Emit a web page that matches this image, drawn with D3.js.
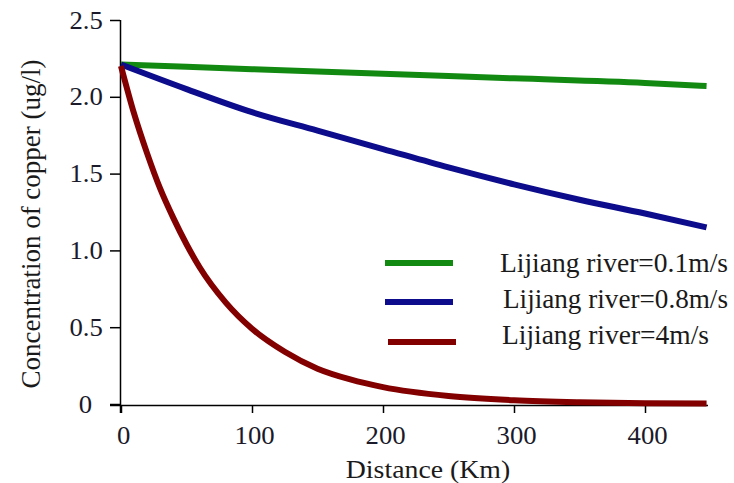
<!DOCTYPE html>
<html>
<head>
<meta charset="utf-8">
<script src="https://cdn.jsdelivr.net/npm/d3@7"></script>
<style>
  body { margin: 0; background: #fff; }
</style>
</head>
<body>
<svg id="chart" width="734" height="483"></svg>
<script>
// values
const distSlow = [0, 100, 200, 300, 400, 447];
const slow     = [2.21, 2.18, 2.15, 2.12, 2.09, 2.07];

const distMedium = [0, 50, 100, 150, 200, 250, 300, 350, 400, 447];
const medium     = [2.21, 2.05, 1.90, 1.78, 1.66, 1.54, 1.43, 1.33, 1.24, 1.15];

const distFast = [0, 10, 20, 30, 40, 50, 60, 80, 100, 125, 150, 175, 200, 250, 300, 350, 400, 447];
const fast     = [2.20, 1.89, 1.63, 1.40, 1.21, 1.04, 0.89, 0.66, 0.49, 0.34, 0.23, 0.16, 0.11, 0.052, 0.024, 0.011, 0.005, 0.003];

const seriesNames = ["Lijiang river=0.1m/s", "Lijiang river=0.8m/s", "Lijiang river=4m/s"];
const seriesColors = ["#128a12", "#0c0c8c", "#820000"];
const xTicks = [0, 100, 200, 300, 400];
const yTicks = [0, 0.5, 1.0, 1.5, 2.0, 2.5];

const serif = "Liberation Serif";
const stretch = "scale(1.07,1)";   // the source text is a bit wide

const svg = d3.select("#chart");

const x = d3.scaleLinear().domain([0, 400]).range([121, 645]);
const y = d3.scaleLinear().domain([0, 2.5]).range([404, 20]);

// axes
const xAxis = svg.append("g")
    .attr("transform", "translate(0,405)")
    .call(d3.axisBottom(x).tickValues(xTicks).tickSize(8).tickPadding(13).tickFormat(d3.format("d")));
xAxis.select(".domain").attr("d", "M110,0.5H708");
xAxis.selectAll(".tick text").attr("dx", 2);

const yAxis = svg.append("g")
    .attr("transform", "translate(120,0)")
    .call(d3.axisLeft(y).tickValues(yTicks).tickSize(10).tickPadding(6)
        .tickFormat(d => d === 0 ? "0" : d3.format(".1f")(d)));
yAxis.select(".domain").attr("d", "M0.5,20V413");
yAxis.selectAll(".tick").filter(d => d === 0).select("text").attr("dx", -10);

svg.selectAll(".domain").attr("stroke", "#000").attr("stroke-width", 1.5);
svg.selectAll(".tick line").attr("stroke", "#000").attr("stroke-width", 1.5);
svg.selectAll(".tick text")
    .attr("font-family", serif)
    .attr("font-size", 25)
    .attr("fill", "#1a1a2a")
    .attr("transform", stretch);

// axis titles
svg.append("text")
    .attr("transform", "translate(428,478) " + stretch)
    .attr("text-anchor", "middle")
    .attr("font-family", serif)
    .attr("font-size", 26)
    .attr("fill", "#1a1a1a")
    .text("Distance (Km)");

svg.append("text")
    .attr("transform", "translate(40,224) rotate(-90)")
    .attr("text-anchor", "middle")
    .attr("font-family", serif)
    .attr("font-size", 27)
    .attr("fill", "#1a1a1a")
    .text("Concentration of copper (ug/l)");

// lines
const series = [
    { dist: distSlow, vals: slow },
    { dist: distMedium, vals: medium },
    { dist: distFast, vals: fast }
];

series.forEach((s, i) => {
    const line = d3.line()
        .x((d, j) => x(s.dist[j]))
        .y(d => y(d))
        .curve(d3.curveMonotoneX);
    svg.append("path")
        .datum(s.vals)
        .attr("fill", "none")
        .attr("stroke", seriesColors[i])
        .attr("stroke-width", 6)
        .attr("d", line);
});

// legend
const legend = svg.append("g");
const legendLineY = [263, 302, 342];
const legendTextY = [272, 308, 344];
const legendX = [[385, 453, 500], [385, 453, 503], [388, 456, 502]];
const legendTextW = [228, 225, 207];
seriesNames.forEach((name, i) => {
    legend.append("line")
        .attr("x1", legendX[i][0]).attr("x2", legendX[i][1])
        .attr("y1", legendLineY[i]).attr("y2", legendLineY[i])
        .attr("stroke", seriesColors[i])
        .attr("stroke-width", 6);
    legend.append("text")
        .attr("x", legendX[i][2]).attr("y", legendTextY[i])
        .attr("textLength", legendTextW[i])
        .attr("lengthAdjust", "spacingAndGlyphs")
        .attr("font-family", serif)
        .attr("font-size", 28)
        .attr("fill", "#1a1a1a")
        .text(name);
});
</script>
</body>
</html>
